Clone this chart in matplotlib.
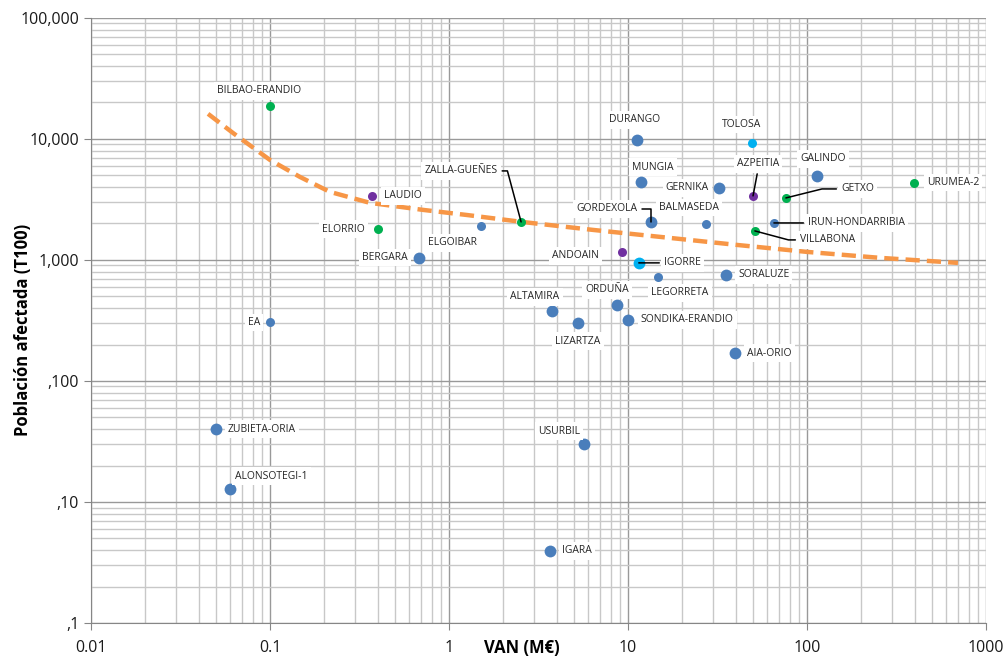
import matplotlib.pyplot as plt
from matplotlib.ticker import FixedLocator, FixedFormatter, LogLocator, NullFormatter

plt.rcParams['font.family'] = ['Open Sans', 'DejaVu Sans']

# presas / tramos: VAN (M€) frente a población afectada en T100
names = ['BILBAO-ERANDIO', 'EA', 'ZUBIETA-ORIA', 'ALONSOTEGI-1', 'LAUDIO', 'ELORRIO',
         'BERGARA', 'ELGOIBAR', 'ZALLA-GUEÑES', 'DURANGO', 'MUNGIA', 'GORDEXOLA',
         'ANDOAIN', 'IGORRE', 'LEGORRETA', 'ORDUÑA', 'ALTAMIRA', 'LIZARTZA',
         'SONDIKA-ERANDIO', 'AIA-ORIO', 'USURBIL', 'IGARA', 'TOLOSA', 'GERNIKA',
         'AZPEITIA', 'GETXO', 'GALINDO', 'BALMASEDA', 'IRUN-HONDARRIBIA', 'VILLABONA',
         'SORALUZE', 'URUMEA-2']
van = [0.1, 0.1, 0.05, 0.06, 0.37, 0.40,
       0.68, 1.51, 2.53, 11.2, 11.8, 13.4,
       9.25, 11.5, 14.7, 8.7, 3.76, 5.26,
       10.0, 39.6, 5.68, 3.67, 49.3, 32.2,
       50.0, 76.3, 114, 27.3, 65.4, 51.2,
       35.3, 396]
poblacion = [18700, 305, 40, 12.8, 3380, 1800,
             1040, 1910, 2060, 9800, 4400, 2060,
             1165, 945, 724, 425, 379, 301,
             319, 170, 30.1, 3.94, 9270, 3930,
             3380, 3250, 4940, 1985, 2020, 1736,
             751, 4330]
grupo = ['verde', 'azul', 'azul', 'azul', 'morado', 'verde',
         'azul', 'azul', 'verde', 'azul', 'azul', 'azul',
         'morado', 'cian', 'azul', 'azul', 'azul', 'azul',
         'azul', 'azul', 'azul', 'azul', 'cian', 'azul',
         'morado', 'verde', 'azul', 'azul', 'azul', 'verde',
         'azul', 'verde']

# línea de tendencia
trend_x = [0.0451, 0.0621, 0.1, 0.147, 0.216, 0.362, 0.716, 1.26, 2.56,
           6.37, 15.1, 40.6, 100, 256, 698]
trend_y = [16100, 11200, 6700, 4850, 3650, 2960, 2590, 2350, 2060,
           1770, 1550, 1330, 1165, 1040, 945]

x_ticks = [0.01, 0.1, 1, 10, 100, 1000]
x_labels = ['0.01', '0.1', '1', '10', '100', '1000']
y_ticks = [1, 10, 100, 1000, 10000, 100000]
y_labels = [',1', ',10', ',100', '1,000', '10,000', '100,000']

colores = {'azul': '#4a7ebb', 'verde': '#00b050', 'morado': '#7030a0', 'cian': '#00b0f0'}
pequenos = {'EA', 'ELGOIBAR', 'LEGORRETA', 'BALMASEDA', 'IRUN-HONDARRIBIA', 'LAUDIO',
            'ANDOAIN', 'AZPEITIA', 'TOLOSA', 'ELORRIO', 'ZALLA-GUEÑES', 'GETXO',
            'VILLABONA', 'URUMEA-2', 'BILBAO-ERANDIO'}

# posición de cada etiqueta (desplazamiento en píxeles, alineación)
etiquetas = {
    'BILBAO-ERANDIO': (-11, 15, 'center'), 'EA': (-10, 0, 'right'),
    'ZUBIETA-ORIA': (12, 0, 'left'), 'ALONSOTEGI-1': (41, 13, 'center'),
    'LAUDIO': (12, 0, 'left'), 'ELORRIO': (-13, 0, 'right'),
    'BERGARA': (-11, 0, 'right'), 'ELGOIBAR': (-28, -17, 'center'),
    'ZALLA-GUEÑES': (-60, 51, 'center'), 'DURANGO': (-2, 20, 'center'),
    'MUNGIA': (12, 15, 'center'), 'GORDEXOLA': (-44, 13, 'center'),
    'ANDOAIN': (-23, -4, 'right'), 'IGORRE': (25, 0, 'left'),
    'LEGORRETA': (22, -16, 'center'), 'ORDUÑA': (-10, 15, 'center'),
    'ALTAMIRA': (-17, 14, 'center'), 'LIZARTZA': (0, -18, 'center'),
    'SONDIKA-ERANDIO': (13, 0, 'left'), 'AIA-ORIO': (12, 0, 'left'),
    'USURBIL': (-25, 13, 'center'), 'IGARA': (12, 0, 'left'),
    'TOLOSA': (-10, 18, 'center'), 'GERNIKA': (-10, 0, 'right'),
    'AZPEITIA': (5, 32, 'center'), 'GETXO': (55, 9, 'left'),
    'GALINDO': (6, 17, 'center'), 'BALMASEDA': (-17, 16, 'center'),
    'IRUN-HONDARRIBIA': (34, 0, 'left'), 'VILLABONA': (45, -9, 'left'),
    'SORALUZE': (12, 0, 'left'), 'URUMEA-2': (13, 0, 'left'),
}
lineas_guia = {
    'ZALLA-GUEÑES': ((1, 0.5), 'angle,angleA=0,angleB=105,rad=0'),
    'GORDEXOLA': ((1, 0.5), 'angle,angleA=0,angleB=90,rad=0'),
    'IGORRE': ((0, 0.5), 'arc3'),
    'AZPEITIA': ((0.5, 0), 'arc3'),
    'GETXO': ((0, 0.5), 'angle,angleA=0,angleB=14,rad=0'),
    'IRUN-HONDARRIBIA': ((0, 0.5), 'arc3'),
    'VILLABONA': ((0, 0.5), 'angle,angleA=0,angleB=-15,rad=0'),
}

fig = plt.figure(figsize=(10.05, 6.6), dpi=100)
ax = fig.add_axes([0.0905, 0.056, 0.8905, 0.917])
ax.set_xscale('log')
ax.set_yscale('log')
ax.set_xlim(0.01, 1000)
ax.set_ylim(1, 100000)

ax.xaxis.set_major_locator(FixedLocator(x_ticks))
ax.xaxis.set_major_formatter(FixedFormatter(x_labels))
ax.yaxis.set_major_locator(FixedLocator(y_ticks))
ax.yaxis.set_major_formatter(FixedFormatter(y_labels))
for axis in (ax.xaxis, ax.yaxis):
    axis.set_minor_locator(LogLocator(base=10, subs=range(2, 10), numticks=20))
    axis.set_minor_formatter(NullFormatter())

ax.grid(which='major', color='#999999', linewidth=1.0)
ax.grid(which='minor', color='#c8c8c8', linewidth=1.0)
ax.set_axisbelow(True)
for s in ('top', 'right'):
    ax.spines[s].set_visible(False)
for s in ('left', 'bottom'):
    ax.spines[s].set_color('#868686')
ax.tick_params(which='major', direction='out', length=5, color='#868686',
               labelsize=11.5, labelcolor='#1a1a1a')
ax.tick_params(which='minor', length=0)
ax.tick_params(axis='x', pad=7)

ax.plot(trend_x, trend_y, color='#f79646', linewidth=3.2, dashes=(3.2, 1.6), zorder=2)

for n, x, y, g in zip(names, van, poblacion, grupo):
    ms = 6.5 if n in pequenos else 8.5
    ax.plot(x, y, 'o', color=colores[g], markersize=ms, markeredgewidth=0, zorder=4)

for n, x, y in zip(names, van, poblacion):
    dx, dy, ha = etiquetas[n]
    kw = {}
    if n in lineas_guia:
        rel, cs = lineas_guia[n]
        kw['arrowprops'] = dict(arrowstyle='-', color='black', lw=1.1, relpos=rel,
                                connectionstyle=cs, shrinkA=1, shrinkB=0)
    ax.annotate(n, xy=(x, y), xytext=(dx, dy), textcoords='offset pixels',
                ha=ha, va='center', fontsize=7.5, color='#262626', zorder=5,
                bbox=dict(boxstyle='square,pad=0.3', fc='white', ec='none'), **kw)

ax.set_xlabel('VAN (M€)', fontsize=12, fontweight='bold')
ax.set_ylabel('Población afectada (T100)', fontsize=12, fontweight='bold')
ax.xaxis.set_label_coords(0.481, -0.027)
ax.yaxis.set_label_coords(-0.066, 0.485)

fig.savefig('out.png', dpi=100)
